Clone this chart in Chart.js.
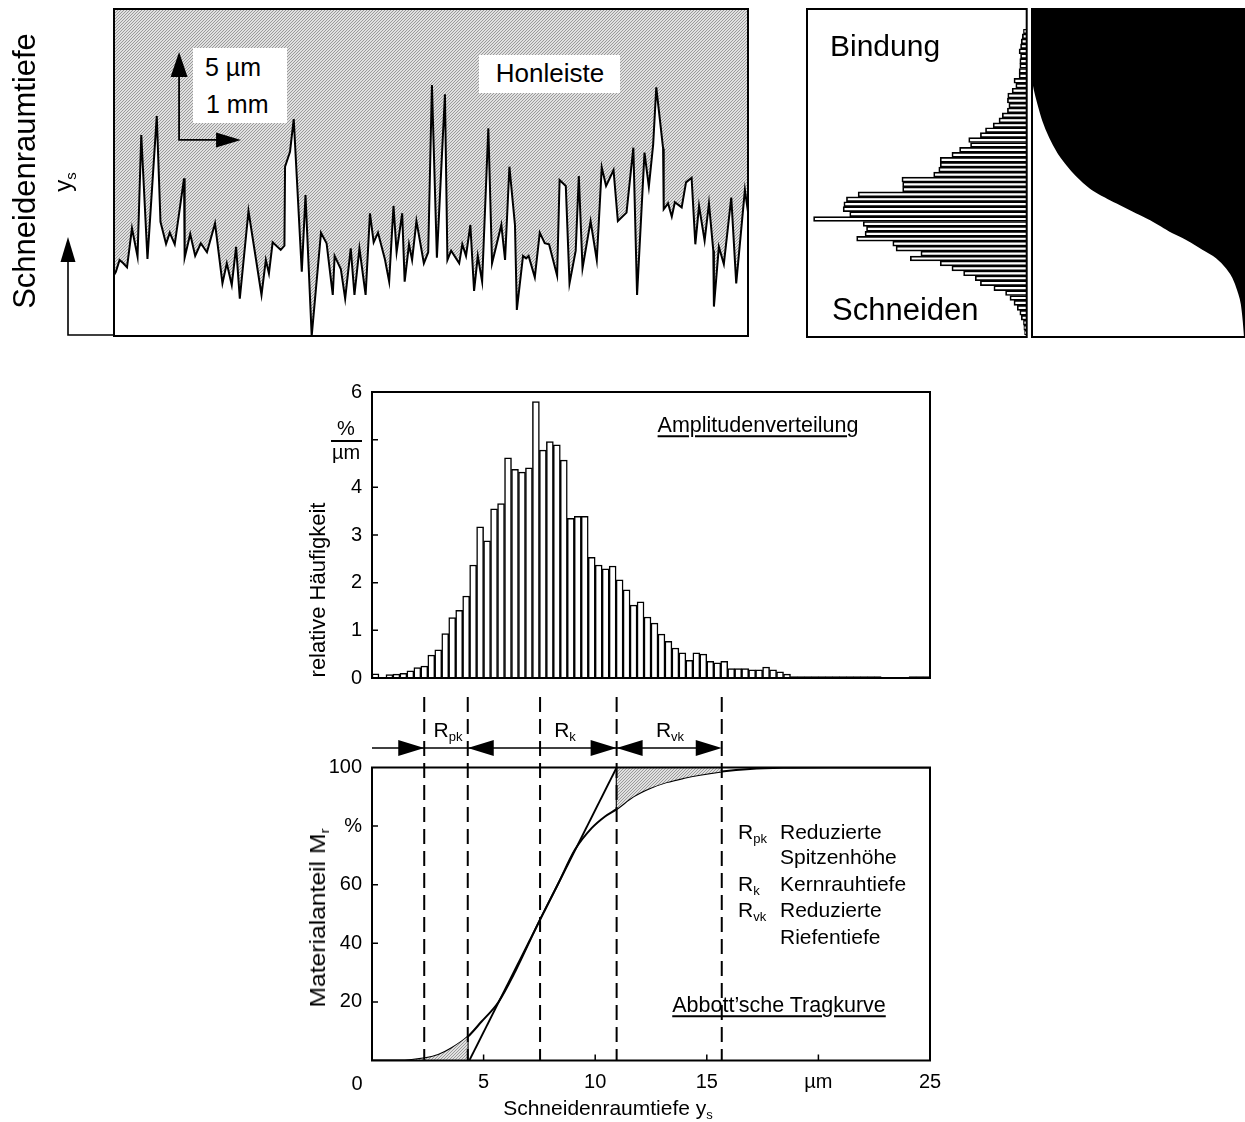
<!DOCTYPE html>
<html lang="de">
<head>
<meta charset="utf-8">
<title>Amplitudenverteilung und Abbott'sche Tragkurve</title>
<script src="https://cdn.jsdelivr.net/npm/chart.js@4.4.1/dist/chart.umd.min.js"></script>
<style>
  html, body { margin: 0; padding: 0; background: #fff; }
  body { position: relative; width: 1245px; height: 1122px; overflow: hidden;
         font-family: 'Liberation Sans', Arial, Helvetica, sans-serif; color: #000; }
  canvas { position: absolute; display: block; }
  .t { position: absolute; white-space: nowrap; line-height: 1; }
  .c { transform: translate(-50%, -50%); }
  .l { transform: translateY(-50%); }
  .rot { transform: translate(-50%, -50%) rotate(-90deg); }
  .u { text-decoration: underline; text-decoration-thickness: 1.5px; text-underline-offset: 3px; }
  .sub { font-size: 0.62em; position: relative; top: 0.32em; }
  .weiss { position: absolute; background: #fff; }
</style>
</head>
<body>
<canvas id="profil" width="638" height="331" style="left:112px;top:7px"></canvas>
<canvas id="verteilung" width="224" height="332" style="left:805px;top:7px"></canvas>
<canvas id="traganteil" width="215" height="332" style="left:1030px;top:7px"></canvas>
<canvas id="amplitude" width="662" height="330" style="left:290px;top:370px"></canvas>
<canvas id="abbott" width="662" height="425" style="left:290px;top:697px"></canvas>

<!-- linke Achsbeschriftung oben -->
<svg style="position:absolute;left:0;top:0" width="120" height="345">
  <polyline points="68,250 68,335 114,335" fill="none" stroke="#000" stroke-width="1.6"/>
  <polygon points="68,237 60.5,262 75.5,262" fill="#000"/>
</svg>
<div class="t rot" style="left:24px;top:171px;font-size:31px">Schneidenraumtiefe</div>
<div class="t rot" style="left:63px;top:182px;font-size:24px">y<span class="sub">s</span></div>

<!-- Profil-Beschriftungen -->
<div class="weiss" style="left:193px;top:48px;width:94px;height:75px"></div>
<div class="t l" style="left:205px;top:67px;font-size:25px">5 µm</div>
<div class="t l" style="left:206px;top:104px;font-size:25px">1 mm</div>
<div class="weiss" style="left:479px;top:55px;width:141px;height:38px"></div>
<div class="t c" style="left:550px;top:73px;font-size:26px">Honleiste</div>

<div class="t l" style="left:830px;top:46px;font-size:30px">Bindung</div>
<div class="t l" style="left:832px;top:309px;font-size:31px">Schneiden</div>

<!-- Amplitudenverteilung -->
<div class="t c u" style="left:758px;top:426px;font-size:21.5px">Amplitudenverteilung</div>
<div class="t c" style="left:346px;top:428px;font-size:20px">%</div>
<div style="position:absolute;left:331px;top:440px;width:31px;height:2px;background:#000"></div>
<div class="t c" style="left:346px;top:452px;font-size:20px">µm</div>
<div class="t rot" style="left:318px;top:590px;font-size:22px">relative Häufigkeit</div>

<!-- Kennwerte -->
<div class="t c" style="left:448px;top:729px;font-size:21px">R<span class="sub">pk</span></div>
<div class="t c" style="left:565px;top:729px;font-size:21px">R<span class="sub">k</span></div>
<div class="t c" style="left:670px;top:729px;font-size:21px">R<span class="sub">vk</span></div>

<div class="t l" style="left:738px;top:831px;font-size:21px">R<span class="sub">pk</span></div>
<div class="t l" style="left:780px;top:831px;font-size:21px">Reduzierte</div>
<div class="t l" style="left:780px;top:856px;font-size:21px">Spitzenhöhe</div>
<div class="t l" style="left:738px;top:883px;font-size:21px">R<span class="sub">k</span></div>
<div class="t l" style="left:780px;top:883px;font-size:21px">Kernrauhtiefe</div>
<div class="t l" style="left:738px;top:909px;font-size:21px">R<span class="sub">vk</span></div>
<div class="t l" style="left:780px;top:909px;font-size:21px">Reduzierte</div>
<div class="t l" style="left:780px;top:936px;font-size:21px">Riefentiefe</div>
<div class="t c u" style="left:779px;top:1006px;font-size:21.5px">Abbott’sche Tragkurve</div>

<div class="t" style="left:318px;top:918px;font-size:22px;transform:translate(-50%,-50%) rotate(-90deg) scaleX(1.12)">Materialanteil M<span class="sub">r</span></div>
<div class="t c" style="left:357px;top:1083px;font-size:20px">0</div>
<div class="t c" style="left:608px;top:1107px;font-size:21px">Schneidenraumtiefe y<span class="sub">s</span></div>

<script>
// Profil der Honleiste (x in mm, y in µm)
const profilX = [
  0.00,0.03,0.09,0.15,0.21,0.29,0.38,0.44,0.54,0.69,
  0.75,0.84,0.90,0.98,1.13,1.14,1.23,1.31,1.40,1.50,
  1.63,1.75,1.82,1.90,1.97,2.03,2.17,2.38,2.45,2.50,
  2.56,2.69,2.75,2.76,2.84,2.90,3.03,3.09,3.19,3.34,
  3.43,3.53,3.56,3.66,3.73,3.82,3.88,3.96,4.06,4.13,
  4.19,4.26,4.37,4.44,4.51,4.56,4.65,4.69,4.76,4.81,
  4.88,5.00,5.07,5.13,5.21,5.34,5.38,5.44,5.57,5.62,
  5.68,5.75,5.81,5.87,5.94,6.04,6.10,6.25,6.31,6.38,
  6.47,6.50,6.60,6.65,6.69,6.79,6.87,6.95,7.02,7.15,
  7.19,7.29,7.35,7.45,7.50,7.56,7.69,7.79,7.87,7.94,
  8.06,8.13,8.27,8.38,8.44,8.56,8.63,8.70,8.75,8.86,
  8.87,8.94,9.00,9.05,9.16,9.23,9.32,9.38,9.44,9.53,
  9.60,9.67,9.68,9.76,9.84,9.96,10.04,10.18,10.23
];
const profilY = [
  3.47,3.65,4.32,4.13,3.90,6.12,4.51,11.42,4.38,12.50,
  6.49,5.23,5.87,5.21,8.96,4.45,5.80,4.55,5.27,4.76,
  6.40,2.99,4.13,2.90,5.07,2.12,7.10,2.33,4.32,3.56,
  5.32,4.89,5.13,9.62,10.47,12.33,3.65,8.01,0.00,5.87,
  5.27,2.33,4.55,3.81,2.12,4.98,2.33,4.98,2.33,6.97,
  5.32,5.87,4.38,3.09,7.39,4.76,6.97,3.09,5.21,4.32,
  6.53,4.13,4.76,14.26,4.45,13.73,4.32,4.85,4.13,5.21,
  4.55,6.31,2.56,4.55,3.09,11.80,4.13,6.31,4.32,9.62,
  6.31,1.48,4.55,4.41,4.55,3.33,5.87,5.27,5.21,3.43,
  8.86,8.52,2.99,4.85,9.09,3.85,6.53,4.32,9.58,8.52,
  9.43,6.53,7.01,10.70,2.33,10.42,8.48,10.89,14.13,10.66,
  7.20,7.54,6.78,7.60,7.31,8.73,8.99,5.21,7.39,5.42,
  7.54,4.85,1.67,5.07,4.09,7.86,2.99,8.30,7.06
];

// Haeufigkeitsverteilung neben dem Profil, von oben (Bindung) nach unten (Schneiden), in %/µm
const bindungWerte = [
  0.07,0.10,0.13,0.15,0.19,0.15,0.17,0.17,0.19,0.19,
  0.33,0.28,0.38,0.50,0.51,0.47,0.51,0.65,0.74,0.90,
  1.11,1.25,1.57,1.52,1.82,2.03,2.35,2.35,2.39,2.53,
  3.40,3.38,3.38,4.60,4.92,4.99,5.01,4.83,5.82,4.46,
  4.37,4.41,4.64,3.65,3.56,2.88,3.17,2.35,2.03,1.71,
  1.39,1.25,0.88,0.56,0.44,0.33,0.24,0.17,0.13,0.07,
  0.06,0.04
];
const bindungKlassen = bindungWerte.map((_, i) => i + 1);

// Traganteilkurve (Materialanteil in %, Hoehe in µm)
const materialF = [0, 1.4, 3.0, 5.3, 8.5, 12.3, 16.3, 21.0, 27.2, 33.5, 41.3, 49.2,
                   56.9, 64.8, 72.6, 80.4, 86.7, 91.4, 94.5, 96.9, 98.5, 99.4, 100];
const materialH = [14.83, 13.98, 13.22, 12.27, 11.32, 10.47, 9.81, 9.15, 8.48, 8.01, 7.54, 7.06,
                   6.59, 6.02, 5.55, 4.98, 4.51, 3.94, 3.37, 2.61, 1.86, 0.91, 0];

// Amplitudenverteilung, relative Haeufigkeit in %/µm
const ampWerte = [
  0.09,0.00,0.07,0.08,0.10,0.15,0.22,0.25,0.48,0.59,
  0.93,1.27,1.42,1.72,2.37,3.17,2.88,3.55,3.66,4.62,
  4.38,4.32,4.41,5.80,4.78,4.96,4.89,4.57,3.35,3.39,
  3.39,2.53,2.37,2.29,2.35,2.06,1.85,1.53,1.60,1.28,
  1.15,0.92,0.77,0.63,0.53,0.37,0.53,0.50,0.35,0.32,
  0.35,0.20,0.20,0.20,0.17,0.17,0.23,0.17,0.13,0.08,
  0.03,0.03,0.03,0.03,0.03,0.03,0.03,0.03,0.03,0.03,
  0.03,0.03,0.03,0.00,0.00,0.00,0.00,0.03,0.03,0.03
];
const ampBreite = 0.3125; // µm je Klasse
const ampKlassen = ampWerte.map((_, i) => (i + 0.5) * ampBreite);

// Abbott'sche Tragkurve
const abbottX = [0, 1.18, 1.78, 2.37, 2.97, 3.57, 4.29, 4.91, 5.66, 6.41, 7.45, 8.35, 9.09,
                 9.84, 10.44, 10.96, 11.71, 12.46, 13.20, 13.95, 14.70, 15.67, 16.94, 18.43, 20.5, 25];
const abbottY = [0, 0, 0.2, 0.75, 1.9, 4.2, 8.1, 13.3, 19.9, 30.3, 46.9, 60.5, 71.9,
                 79.3, 83.3, 85.8, 90.1, 93.0, 95.0, 96.4, 97.5, 98.6, 99.5, 99.9, 100, 100];
const kernGeradeX = [4.36, 10.96];
const kernGeradeY = [0, 100];
// Grenzen: Rpk-Anfang, Rpk/Rk, Mitte, Rk/Rvk, Rvk-Ende (µm)
const kennwerte = [2.34, 4.29, 7.53, 10.96, 15.67];

Chart.defaults.font.family = "'Liberation Sans', Arial, Helvetica, sans-serif";
Chart.defaults.font.size = 20;
Chart.defaults.color = '#000';
Chart.defaults.animation = false;
Chart.defaults.responsive = false;
Chart.defaults.maintainAspectRatio = false;
Chart.defaults.events = [];
Chart.defaults.plugins.legend.display = false;
Chart.defaults.plugins.tooltip.enabled = false;

const paare = (xs, ys) => xs.map((x, i) => ({ x, y: ys[i] }));

function schraffur() {
  const c = document.createElement('canvas');
  c.width = 3; c.height = 3;
  const g = c.getContext('2d');
  g.fillStyle = '#e0e0e0';
  g.fillRect(0, 0, 3, 3);
  g.fillStyle = '#9a9a9a';
  g.fillRect(2, 0, 1, 1);
  g.fillRect(1, 1, 1, 1);
  g.fillRect(0, 2, 1, 1);
  return g.createPattern(c, 'repeat');
}

function pfeil(ctx, tx, ty, dx, dy, len, half) {
  const bx = tx - dx * len, by = ty - dy * len;
  ctx.beginPath();
  ctx.moveTo(tx, ty);
  ctx.lineTo(bx - dy * half, by + dx * half);
  ctx.lineTo(bx + dy * half, by - dx * half);
  ctx.closePath();
  ctx.fill();
}

const rahmen = {
  id: 'rahmen',
  afterDraw(chart, args, opts) {
    const { ctx, chartArea: a } = chart;
    ctx.save();
    ctx.strokeStyle = '#000';
    ctx.lineWidth = 2;
    if (opts.box) {
      const [l, t, r, b] = opts.box;
      ctx.strokeRect(l, t, r - l, b - t);
    } else {
      ctx.strokeRect(a.left, a.top, a.right - a.left, a.bottom - a.top);
    }
    ctx.restore();
  }
};

const innenTicks = {
  id: 'innenTicks',
  afterDraw(chart, args, opts) {
    const { ctx, chartArea: a, scales } = chart;
    ctx.save();
    ctx.strokeStyle = '#000';
    ctx.lineWidth = 1.5;
    ctx.beginPath();
    (opts.x || []).forEach(v => {
      const p = scales.x.getPixelForValue(v);
      ctx.moveTo(p, a.bottom); ctx.lineTo(p, a.bottom - 6);
    });
    (opts.y || []).forEach(v => {
      const p = scales.y.getPixelForValue(v);
      ctx.moveTo(a.left, p); ctx.lineTo(a.left + 6, p);
    });
    ctx.stroke();
    ctx.restore();
  }
};

// Massstabspfeile im Profil (5 µm senkrecht, 1 mm waagerecht)
const massstab = {
  id: 'massstab',
  afterDraw(chart, args, o) {
    const { ctx, scales: { x, y } } = chart;
    const x0 = x.getPixelForValue(o.x), y0 = y.getPixelForValue(o.y);
    const x1 = x.getPixelForValue(o.x + o.dx), y1 = y.getPixelForValue(o.y + o.dy);
    ctx.save();
    ctx.strokeStyle = ctx.fillStyle = '#000';
    ctx.lineWidth = 1.8;
    ctx.beginPath();
    ctx.moveTo(x0, y1 + 12); ctx.lineTo(x0, y0); ctx.lineTo(x1 - 12, y0);
    ctx.stroke();
    pfeil(ctx, x0, y1, 0, -1, 25, 8.5);
    pfeil(ctx, x1, y0, 1, 0, 25, 7.5);
    ctx.restore();
  }
};

// gestrichelte Grenzlinien und Pfeile fuer Rpk, Rk, Rvk
const kennlinien = {
  id: 'kennlinien',
  afterDraw(chart, args, o) {
    const { ctx, chartArea: a, scales: { x } } = chart;
    const px = kennwerte.map(v => x.getPixelForValue(v));
    ctx.save();
    ctx.strokeStyle = ctx.fillStyle = '#000';
    ctx.lineWidth = 2;
    ctx.setLineDash([15, 7]);
    ctx.beginPath();
    px.forEach(p => { ctx.moveTo(p, 0); ctx.lineTo(p, a.bottom); });
    ctx.stroke();
    ctx.setLineDash([]);
    const yp = o.pfeilY;
    ctx.lineWidth = 1.6;
    ctx.beginPath();
    ctx.moveTo(a.left, yp); ctx.lineTo(px[4] - 10, yp);
    ctx.stroke();
    pfeil(ctx, px[0], yp, 1, 0, 26, 8);
    pfeil(ctx, px[1], yp, -1, 0, 26, 8);
    pfeil(ctx, px[3], yp, 1, 0, 26, 8);
    pfeil(ctx, px[3], yp, -1, 0, 26, 8);
    pfeil(ctx, px[4], yp, 1, 0, 26, 8);
    ctx.restore();
  }
};

// Profil
new Chart(document.getElementById('profil'), {
  type: 'line',
  data: {
    datasets: [{
      data: paare(profilX, profilY),
      borderColor: '#000',
      borderWidth: 2,
      backgroundColor: schraffur(),
      fill: 'end',
      pointRadius: 0,
      tension: 0
    }]
  },
  options: {
    layout: { padding: 2 },
    scales: {
      x: { type: 'linear', min: 0, max: 10.23, display: false },
      y: { min: 0, max: 18.58, display: false }
    },
    plugins: { rahmen: {}, massstab: { x: 1.05, y: 11.14, dx: 1, dy: 5 } }
  },
  plugins: [rahmen, massstab]
});

// Verteilung Bindung / Schneiden
new Chart(document.getElementById('verteilung'), {
  type: 'bar',
  data: {
    labels: bindungKlassen,
    datasets: [{
      data: bindungWerte,
      backgroundColor: '#fff',
      borderColor: '#000',
      borderWidth: 1.7,
      barPercentage: 1,
      categoryPercentage: 1
    }]
  },
  options: {
    indexAxis: 'y',
    layout: { padding: { top: 22, bottom: 4, left: 2, right: 3 } },
    scales: {
      x: { min: 0, max: 6, reverse: true, display: false },
      y: { display: false }
    },
    plugins: { rahmen: { box: [2, 2, 221.7, 330] } }
  },
  plugins: [rahmen]
});

// Traganteil (schwarz)
new Chart(document.getElementById('traganteil'), {
  type: 'line',
  data: {
    datasets: [{
      data: paare(materialF, materialH),
      borderColor: '#000',
      borderWidth: 2,
      backgroundColor: '#000',
      fill: 'end',
      pointRadius: 0,
      cubicInterpolationMode: 'monotone'
    }]
  },
  options: {
    layout: { padding: { left: 2, top: 2, bottom: 2, right: 0 } },
    scales: {
      x: { type: 'linear', min: 0, max: 100, display: false },
      y: { min: 0, max: 18.6, display: false }
    },
    plugins: { rahmen: {} }
  },
  plugins: [rahmen]
});

// Amplitudenverteilung
new Chart(document.getElementById('amplitude'), {
  type: 'bar',
  data: {
    datasets: [{
      data: paare(ampKlassen, ampWerte),
      backgroundColor: '#fff',
      borderColor: '#000',
      borderWidth: 1.5,
      barPercentage: 1,
      categoryPercentage: 1
    }]
  },
  options: {
    layout: { padding: { top: 22, right: 22, bottom: 3, left: 0 } },
    scales: {
      x: { type: 'linear', min: 0, max: 25, offset: false, display: false },
      y: {
        min: 0, max: 6,
        ticks: { stepSize: 1, padding: 10, callback: v => (v === 5 ? '' : v) },
        grid: { display: false, drawTicks: false },
        border: { display: false },
        afterFit: s => { s.width = 82; }
      }
    },
    plugins: { rahmen: {}, innenTicks: { y: [1, 2, 3, 4, 5] } }
  },
  plugins: [rahmen, innenTicks]
});

// Abbott'sche Tragkurve
const hatch = schraffur();
const untenX = abbottX.filter(v => v <= kennwerte[1]);
const obenX = abbottX.filter(v => v >= kennwerte[3] && v <= kennwerte[4]);
const yBei = v => abbottY[abbottX.indexOf(v)];

new Chart(document.getElementById('abbott'), {
  type: 'scatter',
  data: {
    datasets: [
      { data: untenX.map(x => ({ x, y: yBei(x) })), showLine: true, borderWidth: 0,
        backgroundColor: hatch, fill: 'origin', pointRadius: 0, cubicInterpolationMode: 'monotone' },
      { data: obenX.map(x => ({ x, y: yBei(x) })), showLine: true, borderWidth: 0,
        backgroundColor: hatch, fill: 'end', pointRadius: 0, cubicInterpolationMode: 'monotone' },
      { data: paare(abbottX, abbottY), showLine: true, borderColor: '#000', borderWidth: 2,
        pointRadius: 0, cubicInterpolationMode: 'monotone' },
      { data: paare(kernGeradeX, kernGeradeY), showLine: true, borderColor: '#000', borderWidth: 1.8,
        pointRadius: 0 },
      { data: [{ x: kennwerte[1], y: 0 }, { x: kennwerte[1], y: yBei(kennwerte[1]) }], showLine: true,
        borderColor: '#000', borderWidth: 1.8, pointRadius: 0 },
      { data: [{ x: kennwerte[3], y: yBei(kennwerte[3]) }, { x: kennwerte[3], y: 100 }], showLine: true,
        borderColor: '#000', borderWidth: 1.8, pointRadius: 0 }
    ]
  },
  options: {
    layout: { padding: { top: 70.5, right: 22, bottom: 0, left: 0 } },
    scales: {
      x: {
        type: 'linear', min: 0, max: 25,
        ticks: { stepSize: 5, padding: 10, maxRotation: 0,
                 callback: v => (v === 0 ? '' : v === 20 ? 'µm' : v) },
        grid: { display: false, drawTicks: false },
        border: { display: false },
        afterFit: s => { s.height = 61.5; }
      },
      y: {
        min: 0, max: 100,
        ticks: { stepSize: 20, padding: 10, callback: v => (v === 0 ? '' : v === 80 ? '%' : v) },
        grid: { display: false, drawTicks: false },
        border: { display: false },
        afterFit: s => { s.width = 82; }
      }
    },
    plugins: {
      rahmen: {},
      innenTicks: { x: [5, 10, 15, 20], y: [20, 40, 60, 80] },
      kennlinien: { pfeilY: 51 }
    }
  },
  plugins: [rahmen, innenTicks, kennlinien]
});
</script>
</body>
</html>
